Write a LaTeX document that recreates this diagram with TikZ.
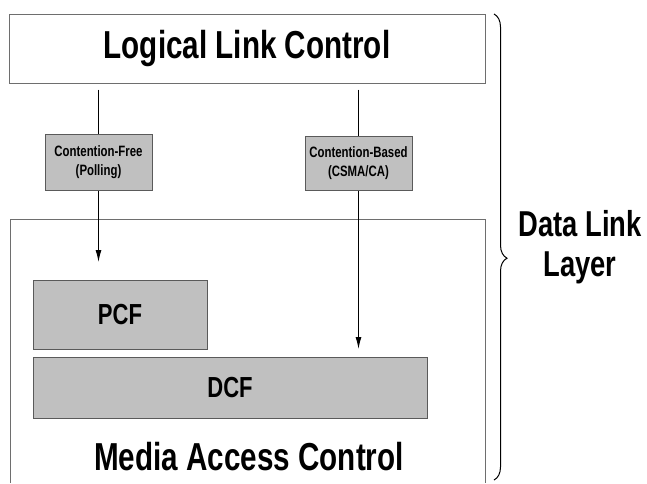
\documentclass[tikz,border=0pt]{standalone}
\usepackage{fontspec}
\setmainfont{Liberation Sans}[FakeStretch=0.76]
\definecolor{boxgray}{RGB}{192, 192, 192}
\definecolor{edgegray}{RGB}{90, 90, 90}
\definecolor{framegray}{RGB}{110, 110, 110}
\usepackage{tikz}
\usetikzlibrary{arrows.meta, positioning, calc, decorations.pathreplacing}

\begin{document}
\begin{tikzpicture}[x=1pt, y=-1pt,
    layerbox/.style={draw=framegray, line width=1pt, inner sep=0pt},
    funcbox/.style={draw=edgegray, fill=boxgray, line width=1pt, inner sep=0pt},
    flow/.style={-{Latex[length=12pt, width=6pt]}, line width=1pt}]
  \useasboundingbox (0, 0) rectangle (647, 483);

  % upper sublayer
  \node[layerbox, minimum width=476pt, minimum height=69pt,
        font=\fontsize{39}{42}\selectfont\bfseries] (llc) at (247, 48.5) {Logical Link Control};

  % access modes
  \node[funcbox, minimum width=107pt, minimum height=56pt, align=center,
        font=\fontsize{15}{19}\selectfont\bfseries] (cf) at (98.5, 162) {Contention-Free\\(Polling)};
  \node[funcbox, minimum width=107pt, minimum height=54pt, align=center,
        font=\fontsize{15}{19}\selectfont\bfseries] (cb) at (358.5, 163) {Contention-Based\\(CSMA/CA)};

  % lower sublayer
  \draw[framegray, line width=1pt] (10, 483) -- (10, 219) -- (485, 219) -- (485, 483);
  \node[funcbox, minimum width=174pt, minimum height=69pt,
        font=\fontsize{29}{32}\selectfont\bfseries] (pcf) at (120, 314.5) {PCF};
  \node[funcbox, minimum width=394pt, minimum height=61pt,
        font=\fontsize{29}{32}\selectfont\bfseries] (dcf) at (230, 387.5) {DCF};
  \node[font=\fontsize{39}{42}\selectfont\bfseries] (mac) at (249, 457) {Media Access Control};

  % connectors
  \coordinate (cftip) at (98.5, 262);
  \coordinate (cbtip) at (358.5, 349);
  \draw[line width=1pt, shorten <=6pt] (llc.south -| cf.north) -- (cf.north);
  \draw[flow] (cf.south) -- (cftip);
  \draw[line width=1pt, shorten <=6pt] (llc.south -| cb.north) -- (cb.north);
  \draw[flow] (cb.south) -- (cbtip);

  % brace
  \coordinate (bracetop) at (494, 14);
  \coordinate (bracebot) at (494, 480);
  \draw[line width=1pt, decorate, decoration={brace, amplitude=13pt, aspect=0.524}]
    (bracetop) -- (bracebot);
  \node[align=center, font=\fontsize{36}{40}\selectfont\bfseries] (dll) at (580, 247) {Data Link\\Layer};
\end{tikzpicture}
\end{document}
